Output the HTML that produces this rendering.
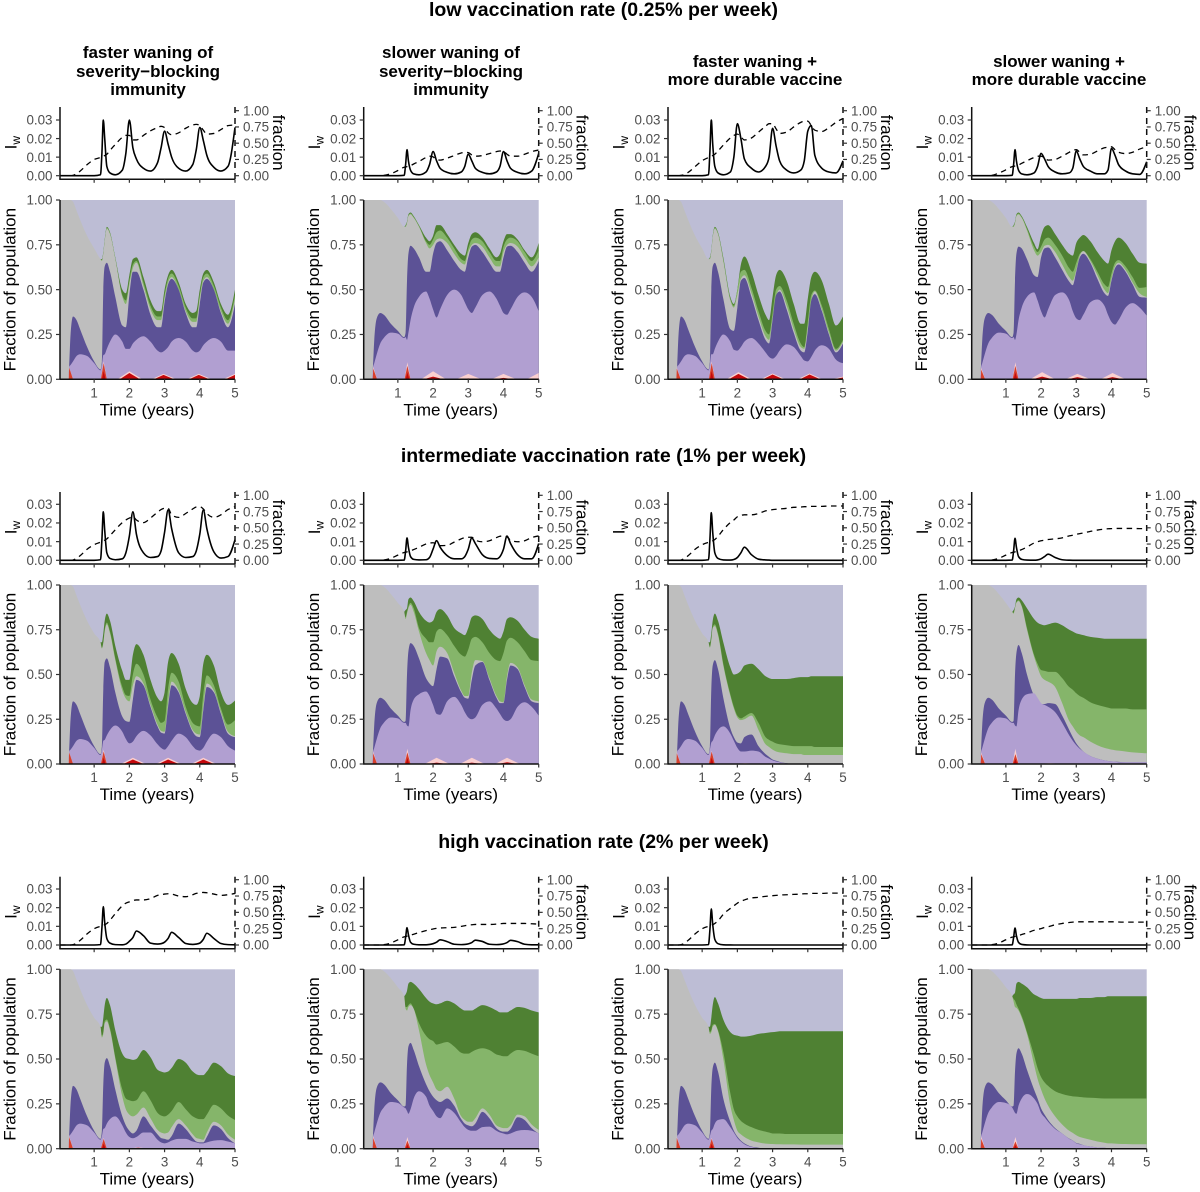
<!DOCTYPE html>
<html lang="en">
<head>
<meta charset="utf-8">
<title>Vaccination rate scenarios</title>
<style>
html,body{margin:0;padding:0;background:#fff;}
svg{display:block;font-family:"Liberation Sans",Arial,sans-serif;}
.row-title{font-size:19.5px;font-weight:bold;text-anchor:middle;fill:#000;}
.col-title{font-size:17px;font-weight:bold;text-anchor:middle;fill:#000;}
</style>
</head>
<body>
<svg id="figure" xmlns="http://www.w3.org/2000/svg" width="1200" height="1192" viewBox="0 0 1200 1192">
<rect width="1200" height="1192" fill="#fff"/>
<text class="row-title" x="603.5" y="16">low vaccination rate (0.25% per week)</text>
<text class="row-title" x="603.5" y="462">intermediate vaccination rate (1% per week)</text>
<text class="row-title" x="603.5" y="848">high vaccination rate (2% per week)</text>
<text class="col-title" x="148" y="58">faster waning of</text>
<text class="col-title" x="148" y="77">severity−blocking</text>
<text class="col-title" x="148" y="95">immunity</text>
<text class="col-title" x="451" y="58">slower waning of</text>
<text class="col-title" x="451" y="77">severity−blocking</text>
<text class="col-title" x="451" y="95">immunity</text>
<text class="col-title" x="755" y="67">faster waning +</text>
<text class="col-title" x="755" y="85">more durable vaccine</text>
<text class="col-title" x="1059" y="67">slower waning +</text>
<text class="col-title" x="1059" y="85">more durable vaccine</text>
</svg>
<script>
// Shared time grid (years)
const TIMES = [0.03,0.27,0.29,0.33,0.40,0.5,0.6,0.8,1.0,1.18,1.22,1.26,1.30,1.36,1.45,1.6,1.8,1.9,2.0,2.1,2.2,2.4,2.6,2.8,2.9,3.0,3.1,3.2,3.4,3.6,3.8,3.9,4.0,4.1,4.2,4.4,4.6,4.8,5.0];
const GREEN_TIMES = TIMES.slice(9);
const X_TICKS = [1,2,3,4,5];
const IW_TICKS = [0,0.01,0.02,0.03];
const IW_LABELS = ['0.00','0.01','0.02','0.03'];
const FRACTION_TICKS = [0,0.25,0.5,0.75,1];
const FRACTION_LABELS = ['0.00','0.25','0.50','0.75','1.00'];

// Stack boundaries in percent of population, one row per panel (row by row, column by column)
const lilacSeries = [
[0,0,7,8,10,13,14,13,9,5,8,13.5,14,17,21,25,21,17,17,20,22,24,21,16,15,16,18,21,23,21,16,15,16,19,21,23,21,16,16],
[0,0,6,9,14,20,23,26,25.5,23,23.5,22,26,33,40,46,49,45,39,34.5,39,47,50,47,43,39,37,40,47,49,45,41,37,36,39,46,48.5,46,38],
[0,0,7,8,10,13,14,13,9,5,8,14,14,17,21,25,21,16.5,16,18,21,23,20,15,12.5,11.5,13,16,19.5,18,13,10.5,10,12.5,16,19,17,11,9],
[0,0,6,9,14,20,23,26,25.5,23,23.5,22,25,33,40,46,48.5,44,38,34.5,39,47,48.5,44,38,34,33,36,43,44.5,41,36,32,30.5,33,40,42.5,40,35.5],
[0,0,7,8,10,13,14,13,9,5,8,13,13.5,16,19,21.5,18,14,11.5,12.5,15.5,18.5,16,11,9,8,10,13,17,15,10,8,7.5,9,12.5,17,15,10,7.5],
[0,0,6,9,14,20,23,26,25.5,23,23,21.5,21,30,36,39,40.5,38,33,28,27.5,35,37.5,33,29,26,25,26,33,35,31,28,25,24,25,32,34.5,32,27],
[0,0,7,8,10,13,14,13,9,5,8,12,13,16,19,21,17,13,9,7,7,7.5,7,4,3,2,1.4,1,0.3,0,0,0,0,0,0,0,0,0,0],
[0,0,6,9,14,20,23,26,25.5,23,23,21.5,21,30,36,39,39.5,37,34,33,32,29,23,16,13,10.5,8.5,7,4.5,3,2,1.7,1.5,1.3,1,1,1,1,1],
[0,0,7,8,10,13,14,13,9,5,7,11,11.5,14,16.5,18,13,9,6.5,5.8,6.5,9,9,5,3.5,3,3.5,4.5,5.5,5.5,4,3.5,3,3,3.5,4.5,4.8,4,3],
[0,0,6,9,14,20,23,26,25.5,23,22.5,21,19.5,22,28,32,29,24,21,18,17,22.5,20,14.5,12,10.5,10,10,12,12.3,10,9,8.5,8,8.5,10,10.4,10,8.5],
[0,0,7,8,10,13,14,13,9,5,7,10,11,14,16,16.5,12,9,6,4,2.5,1,0.2,0,0,0,0,0,0,0,0,0,0,0,0,0,0,0,0],
[0,0,6,9,14,20,23,26,25.5,23,21.5,20,19.5,24,28,30.5,28,25,20,17.5,15,11,8.5,5.5,4.5,3,2.5,2,1.2,0.7,0.5,0.2,0,0,0,0,0,0,0]
];
const purpleSeries = [
[0,0,7,25,35,33,28,18,10,5.5,10,50,63,65,60,46,30,29,47,60,60,50,36,29,29,43,53,56,50,37,29,29,42,54,56,50,37,29,42],
[0,0,6,22,34,37,36,31,27,23.5,26,55,70,74.5,73,68,60,60,70,76,77,72,66,61,60,68,74,75,71,65,60,60,68,74,74.5,71,65,60,66],
[0,0,7,25,35,33,28,18,10,5.5,10,50,63,65,60,45,28,27,40,55,56.5,46,33,22,20,33,47,49,39,26,16,15,27,44,47.5,38,25,15,20],
[0,0,6,22,34,37,36,31,27,23.5,26,55,70,74,73,67,58,57,68,73,73.5,68,61,54.5,52.5,60,68,70,65,56,48,46.5,55,62,64,60,53,46,45.5],
[0,0,7,25,35,33,28,18,10,5.5,10,42,57,59,54,40,26.5,24,23.5,36,47,44,32,21,17.5,17,32,44,40,28,18,15.5,15,30,43,40,28,17,15],
[0,0,6,22,34,37,36,31,27,23.5,24,50,63,67.5,66,59,48,45,43.5,53,60,59,49,40,37,36.5,47,55,57,47,37,34,34,47,55,53,43,35,34],
[0,0,7,25,35,33,28,18,10,5.5,10,42,55,58,53,37,20,15,12,11.5,15,16.5,10,5.5,4,2.5,1.8,1.2,0.4,0,0,0,0,0,0,0,0,0,0],
[0,0,6,22,34,37,36,31,27,23.5,24,50,62,66.5,62,50,38,34,33.5,33.5,34,33.5,27,19,15,11.5,9,7,4.5,3,2,1.7,1.5,1.3,1.2,1,1,1,1],
[0,0,7,25,35,33,28,18,10,5.5,10,36,48,50.5,46,33,18,13,10,8.5,10,18,13,8,6,5.5,5,7,14,11,6,4,3.5,3.5,6.5,13,11,6,3],
[0,0,6,22,34,37,36,31,27,23.5,24,47,57,59,55,46,36,32,29,27,26,28,24,16.5,14,13,12.5,14,20.5,17,11.5,10,9.5,9.5,11,17.5,16,11.5,8.5],
[0,0,7,25,35,33,28,18,10,5.5,9,34,45,48,43,28,15,10,6.7,4.5,3,1.2,0.5,0,0,0,0,0,0,0,0,0,0,0,0,0,0,0,0],
[0,0,6,22,34,37,36,31,27,23.5,24,43,53,56,53,44,33,28,22.5,19,16,11.5,8.5,5.6,4.6,3.2,2.7,2,1.2,0.7,0.5,0.2,0,0,0,0,0,0,0]
];
const greySeries = [
[100,100,100,100,99,94,89,80,73,67,66,70,77,84,81,67,46,42,53,62,65,52,39,33,33,45,54,57,50,38,32,32,45,55,57,50,38,31,45],
[100,100,100,100,100,100,99,95,90,85,85,87,91,92,90,85,76,73,75,78,78.5,76,70,65,64,71,75,76,74,68,63,63,71,75,76,74,68,63,68],
[100,100,100,100,99,94,89,80,73,67,67,71,79,84,81,66,44,40,47,56,58,48,35,24,22,34,46,50,41,28,18,17,29,44,49,39,26,16,21],
[100,100,100,100,100,100,99,95,90,85,85,87,91,92,90,83,72,69,71,74.5,75,71,64,57,55,61,69,71.5,66,58,50,48,56,63,65,61,54,48,46],
[100,100,100,100,99,94,89,80,73,68,64.5,67.5,74,78,73,58,41,36.5,35,44,49,45,33,22,18.5,18,34,46,41,29,19,17,16.5,32,45,41,29,18,15.5],
[100,100,100,100,100,100,99,95,90,85,81,84,87,89,85,74,62,58,55,63,65.5,62,51,41,38,38,51,58,57.5,48,38,35,34.5,49,56.5,54,44,36,35],
[100,100,100,100,99,94,89,80,73,68,65,69,76,77,72,55,38,31,26,24.5,25,27,19,11,9.5,8,7,6.5,6,5.5,5.5,5,5,5,5,5,5,5,5],
[100,100,100,100,100,100,99,95,90,85,84,87,90,91,88,75,60,54,49,47,46,43,34,24,21,18,16,15,12.5,10.5,9,8.5,8,7.7,7.5,7,6.5,6.2,6],
[100,100,100,100,99,94,89,80,73,68,62,64,70,71,66,50,29,22,19,18,19,23,17,10.5,9,8.5,9,12,16.5,13,8,6,5.5,5,9,15,13,8,5],
[100,100,100,100,100,100,99,95,90,85,78,77,79,80,78,66,47,41,37,33,32,34.5,28,18,16,15,15,17,22.5,19,13,12,11.5,11.5,13,19,18,13.5,10.5],
[100,100,100,100,99,94,89,80,73,68,64,65,68,69,65.5,50,24,16,10,8,6.5,4.5,3.5,2.8,2.7,2.6,2.5,2.5,2.4,2.4,2.3,2.3,2.3,2.3,2.3,2.3,2.3,2.3,2.3],
[100,100,100,100,100,100,99,95,90,85,82,79,78.5,77,73,64,47,39,33,28,24,18,13.5,10,8.8,7.5,6.5,6,5,4,3.3,3,3,2.8,2.7,2.6,2.5,2.5,2.5]
];
// Green boundaries start at t = 1.18 (GREEN_TIMES)
const lightGreenSeries = [
[67,66.5,70.5,77.5,84.5,81.5,67.5,47,44,55,64,66,54,41,35,35,47,56,59,52,40,34,34,47,57,59,52,40,33,47],
[85,85.5,87.5,91.5,92.5,90.5,85.5,77,75,78,82,83,79,73,67,66,73,78,79,77,71,66,66,74,78,79,77,71,66,72],
[67,67.5,71.5,79.5,84.5,81.5,67,45,41,50,60,61,51,38,27,25,37,50,52,44,31,20,18,32,47,49.5,41,28,17,22],
[85,85.5,87.5,91.5,92.5,90.5,84,74,71,74,78,79,75,69,62,60,65,70,71.5,67,60,53,51.5,59,65,66.5,63,57,51,51.5],
[68,65,68,75,79,74,59,43,38.5,38,50,56,50,36,26,23,24,42,51,46,32,23,21.5,21,39,49.5,44,31,22,24.5],
[85,82,85,88,90,87,76,70,68,68,74,75.5,72,66,61,60,64,70,71,68,62,58,57.5,62,69,70.5,68,63,58,57.5],
[68,65.5,70,76.5,78,73,56,39,32,27,25.5,26.5,28.5,23,15,13.5,12.5,11.5,11,10.5,10,10,10,10,10,9.5,9.5,9.5,9.5,9.5],
[85,84.5,87.5,90.5,91.5,88.5,76,61,56,52.5,52,51.5,51.5,48,43,41.5,39.5,38,37,34.5,33,32,31.5,31,31,31,31,30.5,30.5,30.5],
[68,63,65,71,72,67,51,33,28,27,26.5,27,32,27,20,18.5,18,19,21,26,22,18,17,16.5,16.5,19,24.5,22.5,18.5,16],
[85,79,79,80,81,78,70,63,61,60,58,58.5,59.5,57,53.5,53,53,54,55,56,55,52.5,52,51.5,51.5,53,55,54.5,53,51.5],
[68,65,66,69,69.5,66,54,31,22,18,15.5,14,12,10.5,9.5,9,8.5,8.5,8.5,8.2,8.2,8.2,8.2,8.2,8.2,8.2,8.2,8.2,8.2,8.2],
[85,83.5,82.5,80.5,78,74,65,52,45,40,37,35,32,30.5,29.5,29.2,29,28.8,28.6,28.4,28.2,28,28,28,28,28,28,28,28,28]
];
const darkGreenSeries = [
[67,67,71,78,85,82,68,50,48,58,67,68,57,44,38,38,50,58,61,54,42,37,38,50,59,61,54,42,36,50],
[85,86,88,92,93,91,86,79,77,80,86,86,81,75,70,69,76,81,82,79,73,68,70,77,81,81,78,72,68,76],
[67,68,72,80,85,82,68,46,42,50,64,68.5,60,47,36,33,46,58,61,55,42,31,31,45,57,60,55,42,30,35],
[85,86,88,92,93,91,85,76,72.5,80,85,86,81,75,70,69,76,79,80.5,77,71,66,64.5,72,77,79,76,70,65,64.5],
[68,68,73,80,84,80,66,52,47,47,61,67,61,47,37,35,40,57,62,56,42,34,33,38,56,61,55,40,33,35.5],
[85,86,87,92,93,91,85,80,79,80,85,86.5,83,76,73,72,76,82,83,81,75,71,70,74,81,82,80,75,71,70],
[68,68,73,80,84,80,68,54,50,50.5,52,55,56,53,49,48,47.5,47.5,47.5,47.5,48,48.5,48.5,48.5,49,49,49,49,49,49],
[85,86,88,92,93,91.5,87,81,79,78,77.5,78,79,77.5,75,74,73,72.5,72,71,70.5,70,70,70,70,70,70,70,70,70],
[68,68,73,80,84,80,66,53,50.5,50,49.5,50,55,51,44,43,42.5,43,45,50,48,43,41.5,41,41,43,48,46,42,40.5],
[85,86,88,92,93,92,89,84,82,81,80.5,81,82.5,81,78,77,77,77,78,80,79,77,76,76,76,77,79,78.5,77,76],
[68,68,73,80,84.5,81,72,65,63.5,63,62.5,62.5,63,64,64.5,64.8,65,65.2,65.5,65.5,65.5,65.5,65.5,65.5,65.5,65.5,65.5,65.5,65.5,65.5],
[85,86,87,92,93,92,90,86,85,84,83.5,83.5,83.5,83.5,83.5,83.5,83.5,84,84,84,84.5,84.5,85,85,85,85,85,85,85,85]
];

// Red / pink outbreak peaks: time (years) and heights (percent)
const peakTimes = [
[0.29,1.27,2.0,2.97,3.97,5.0],[0.30,1.27,2.0,3.0,4.0,5.0],[0.28,1.27,2.03,3.0,4.05,5.0],[0.30,1.27,2.03,3.03,4.03],
[0.29,1.27,2.1,3.1,4.1],[0.30,1.27,2.1,3.1,4.1],[0.28,1.27,2.22],[0.30,1.27,2.25],
[0.29,1.27,2.25,3.25],[0.30,1.27,2.25,3.3],[0.28,1.27],[0.30,1.27]
];
const redHeights = [
[6.5,9,3.5,2.5,2.5,2.5],[6,7.5,1.5,0.5,0.8,0.5],[6,9,3,2.7,2.7,1],[5.5,7.5,1.5,1.2,1.2],
[6.5,7,2.5,2.5,2.5],[6,6.5,0.8,0.8,1],[6,7,0.3],[5.5,5.5,0],
[6.5,5.5,0.5,0.2],[6,4.5,0,0],[6,5.5],[5.5,4]
];
const pinkHeights = [
[6.5,10,4.5,3,3,3],[7,9.5,4.5,3,3,3.5],[6.5,10,4,3.2,3.2,1.5],[6.5,9.5,4,3,3.5],
[6.5,8,3.5,3.5,3.5],[7,8.5,3.5,3.5,3.5],[6.5,7.5,0.5],[6.5,8.5,0.5],
[7,6,0.7,0.3],[7,6.5,0.4,0.2],[6.5,6],[7,6.5]
];

// Weekly incidence I_w, in thousandths
const iwSeries = [
[0,0,0,0,0,0,0,0,0,0.5,12,30,20,5,1.5,0.5,3,12,30,15,9,4,2.5,7,15,24,17,10,4,2.5,6,14,26,19,11,4.5,2.5,5,26],
[0,0,0,0,0,0,0,0,0,0.2,6,14,8,3,1,0.5,2,6,13,8,4,1.8,1,2,5,11.5,8,4,1.8,1,2,5,13,8,4,1.8,1,2.5,12],
[0,0,0,0,0,0,0,0,0,0.5,13,30,17,5,1.5,0.5,2,10,28,20,9,4,2,5,10,25.5,16,8,3,1.5,3,8,24,27,11,4,2,1.5,8],
[0,0,0,0,0,0,0,0,0,0.2,6,14,8,3,1,0.5,1.5,5,12,9,5,2,1,1.5,4,13.3,9,5,2.5,1,1,3,14.7,11,6,2.5,1,0.7,7.5],
[0,0,0,0,0,0,0,0,0,0.3,11,26,16,4,1,0.3,0.8,4,13,26,14,4,1.5,2,5,15,27,17,4,1.5,2,5,14,27,17,4.5,1.2,2,11],
[0,0,0,0,0,0,0,0,0,0.1,5,12,7,2,0.5,0.2,0.3,1.5,6,10.5,7,2.5,0.8,0.8,2,6,12,9,3,1,0.8,2,6,13,9,3,0.8,0.8,9],
[0,0,0,0,0,0,0,0,0,0.3,11,25.5,15,4,1,0.2,0.1,0.4,1.5,4,7,3,0.6,0.2,0.1,0,0,0,0,0,0,0,0,0,0,0,0,0,0],
[0,0,0,0,0,0,0,0,0,0.1,5,11.8,7,2,0.5,0.1,0.05,0.2,0.8,2,3.3,1.5,0.3,0.05,0,0,0,0,0,0,0,0,0,0,0,0,0,0,0],
[0,0,0,0,0,0,0,0,0,0.2,9,20.5,12,3.5,1,0.2,0.1,0.5,2,4,7.5,5,1,0.5,0.7,1.5,3.5,6.8,4,0.8,0.3,0.5,1,3,6.3,3.5,0.8,0.2,0.1],
[0,0,0,0,0,0,0,0,0,0.1,4,9.3,5.5,1.5,0.4,0.1,0.1,0.3,0.7,1.5,2.8,1.8,0.4,0.2,0.3,0.6,1.3,2.6,1.9,0.4,0.2,0.3,0.6,1.3,2.5,1.8,0.4,0.1,0.1],
[0,0,0,0,0,0,0,0,0,0.2,8,19.3,11,3,0.7,0.1,0.02,0,0,0,0,0,0,0,0,0,0,0,0,0,0,0,0,0,0,0,0,0,0],
[0,0,0,0,0,0,0,0,0,0.1,4,9.1,5,1.4,0.3,0.05,0,0,0,0,0,0,0,0,0,0,0,0,0,0,0,0,0,0,0,0,0,0,0]
];
// Vaccinated fraction (dashed line)
const fractionSeries = [
[0,0,0,0,0.005,0.03,0.07,0.17,0.25,0.28,0.29,0.30,0.31,0.33,0.39,0.48,0.59,0.62,0.62,0.55,0.55,0.62,0.69,0.74,0.76,0.74,0.66,0.63,0.66,0.73,0.78,0.79,0.77,0.70,0.64,0.65,0.71,0.77,0.78],
[0,0,0,0,0,0,0.005,0.03,0.08,0.13,0.135,0.14,0.145,0.155,0.18,0.22,0.28,0.30,0.29,0.245,0.24,0.27,0.31,0.35,0.36,0.355,0.32,0.30,0.31,0.34,0.37,0.38,0.375,0.33,0.30,0.30,0.33,0.37,0.395],
[0,0,0,0,0.005,0.02,0.05,0.14,0.23,0.28,0.29,0.30,0.31,0.33,0.38,0.47,0.58,0.62,0.64,0.60,0.55,0.58,0.67,0.76,0.80,0.80,0.72,0.65,0.67,0.75,0.82,0.84,0.84,0.77,0.70,0.68,0.74,0.82,0.88],
[0,0,0,0,0,0,0.005,0.04,0.09,0.14,0.145,0.15,0.155,0.165,0.19,0.23,0.28,0.30,0.30,0.27,0.24,0.25,0.30,0.36,0.39,0.40,0.36,0.32,0.33,0.38,0.43,0.44,0.445,0.40,0.36,0.34,0.36,0.41,0.445],
[0,0,0,0,0.005,0.03,0.07,0.17,0.24,0.28,0.29,0.30,0.31,0.33,0.38,0.47,0.58,0.62,0.65,0.67,0.62,0.58,0.65,0.74,0.78,0.80,0.80,0.70,0.66,0.72,0.79,0.82,0.825,0.79,0.72,0.66,0.70,0.78,0.825],
[0,0,0,0,0,0,0.005,0.03,0.08,0.12,0.125,0.13,0.135,0.145,0.165,0.20,0.25,0.265,0.27,0.25,0.225,0.23,0.28,0.33,0.35,0.355,0.355,0.31,0.285,0.30,0.35,0.37,0.375,0.36,0.31,0.285,0.30,0.35,0.375],
[0,0,0,0,0.005,0.03,0.07,0.17,0.24,0.275,0.28,0.29,0.30,0.32,0.37,0.47,0.58,0.62,0.67,0.69,0.70,0.70,0.72,0.76,0.77,0.78,0.785,0.79,0.80,0.815,0.82,0.825,0.825,0.83,0.83,0.83,0.835,0.835,0.835],
[0,0,0,0,0,0,0.005,0.03,0.08,0.12,0.125,0.13,0.135,0.145,0.165,0.205,0.265,0.285,0.30,0.31,0.32,0.33,0.345,0.375,0.385,0.40,0.41,0.42,0.445,0.465,0.48,0.485,0.487,0.49,0.49,0.49,0.49,0.487,0.487],
[0,0,0,0,0.005,0.03,0.07,0.17,0.25,0.285,0.29,0.30,0.31,0.33,0.38,0.48,0.60,0.64,0.66,0.68,0.69,0.69,0.71,0.76,0.77,0.78,0.785,0.78,0.75,0.74,0.77,0.79,0.80,0.805,0.80,0.78,0.76,0.77,0.79],
[0,0,0,0,0,0,0.005,0.03,0.08,0.125,0.13,0.135,0.14,0.15,0.165,0.19,0.22,0.235,0.245,0.255,0.26,0.265,0.27,0.285,0.295,0.305,0.31,0.315,0.315,0.315,0.32,0.325,0.33,0.33,0.33,0.33,0.33,0.325,0.32],
[0,0,0,0,0.005,0.03,0.07,0.17,0.25,0.285,0.29,0.30,0.31,0.33,0.37,0.47,0.56,0.60,0.64,0.67,0.69,0.72,0.73,0.745,0.75,0.755,0.76,0.765,0.77,0.775,0.78,0.785,0.785,0.79,0.79,0.79,0.795,0.795,0.795],
[0,0,0,0,0,0,0.005,0.03,0.08,0.12,0.125,0.13,0.135,0.145,0.16,0.185,0.225,0.24,0.25,0.27,0.28,0.31,0.33,0.345,0.35,0.355,0.355,0.355,0.355,0.355,0.355,0.355,0.355,0.355,0.352,0.35,0.35,0.35,0.35]
];

// Layout
const COL_X0 = [60,363.7,668,971.7];
const PLOT_W = 175;
const ROW_LAYOUT = [
  {upTop:107, iw0:175.7, iw3:120, frac1:110.7, upBottom:179.3, mainTop:200, mainBottom:379.3},
  {upTop:492, iw0:560.3, iw3:504.3, frac1:495.3, upBottom:564, mainTop:585, mainBottom:764},
  {upTop:876.7, iw0:945, iw3:889, frac1:879.7, upBottom:948.7, mainTop:969.3, mainBottom:1148.7}
];
const COLORS = {lavender:'#bdbdd5',grey:'#bebebe',purple:'#5c5296',lilac:'#b19fd1',lightGreen:'#85b56a',darkGreen:'#4f8133',red:'#d63f2c',deepRed:'#c5080c',pink:'#fbd0d0',tick:'#4d4d4d',axis:'#111'};

const NS = 'http://www.w3.org/2000/svg';
const svg = document.getElementById('figure');

function make(tag, attrs, parent){
  const node = document.createElementNS(NS, tag);
  for (const k in attrs) node.setAttribute(k, attrs[k]);
  (parent || svg).appendChild(node);
  return node;
}
function monotoneSegments(xs, ys){
  const n = xs.length, m = new Array(n).fill(0), s = [];
  for (let i = 0; i < n-1; i++) s.push((ys[i+1]-ys[i])/(xs[i+1]-xs[i]));
  for (let i = 1; i < n-1; i++){
    const h0 = xs[i]-xs[i-1], h1 = xs[i+1]-xs[i];
    const p = (s[i-1]*h1+s[i]*h0)/(h0+h1);
    m[i] = (Math.sign(s[i-1])+Math.sign(s[i]))*Math.min(Math.abs(s[i-1]),Math.abs(s[i]),0.5*Math.abs(p));
  }
  m[0] = (3*s[0]-m[1])/2;
  m[n-1] = (3*s[n-2]-m[n-2])/2;
  let d = '';
  for (let i = 0; i < n-1; i++){
    const h = (xs[i+1]-xs[i])/3;
    d += 'C'+(xs[i]+h).toFixed(2)+' '+(ys[i]+m[i]*h).toFixed(2)+' '+(xs[i+1]-h).toFixed(2)+' '+(ys[i+1]-m[i+1]*h).toFixed(2)+' '+xs[i+1].toFixed(2)+' '+ys[i+1].toFixed(2);
  }
  return d;
}
function linePath(xs, ys){
  return 'M'+xs[0].toFixed(2)+' '+ys[0].toFixed(2)+monotoneSegments(xs, ys);
}
function areaPath(xs, ys, base){
  return 'M'+xs[0].toFixed(2)+' '+base+'L'+xs[0].toFixed(2)+' '+ys[0].toFixed(2)+monotoneSegments(xs, ys)+'L'+xs[xs.length-1].toFixed(2)+' '+base+'Z';
}
function textAt(content, x, y, size, fill, anchor){
  const t = make('text', {x:x, y:y, 'font-size':size, fill:fill, 'text-anchor':anchor});
  t.textContent = content;
  return t;
}

for (let r = 0; r < 3; r++){
  for (let c = 0; c < 4; c++){
    const idx = r*4 + c;
    const L = ROW_LAYOUT[r];
    const x0 = COL_X0[c], x5 = x0 + PLOT_W;
    const xScale = function(t){ return x0 + (t-0.03)*PLOT_W/4.97; };
    const yMain = function(p){ return L.mainBottom - p/100*(L.mainBottom-L.mainTop); };
    const yIw = function(v){ return L.iw0 - v/0.03*(L.iw0-L.iw3); };
    const yFrac = function(v){ return L.iw0 - v*(L.iw0-L.frac1); };

    const panel = make('g', {});
    
    

    // Upper chart
    const iwLine = make('path', {d:linePath(TIMES.map(xScale), iwSeries[idx].map(function(v){return yIw(v/1000);})), fill:'none', stroke:'#000', 'stroke-width':1.6}, panel);
    
    
    const fracLine = make('path', {d:linePath(TIMES.map(xScale), fractionSeries[idx].map(yFrac)), fill:'none', stroke:'#000', 'stroke-width':1.3, 'stroke-dasharray':'5.5 4.5'}, panel);
    
    

    const upLeft = make('line', {x1:x0, x2:x0, y1:L.upTop, y2:L.upBottom, stroke:COLORS.axis, 'stroke-width':1.5}, panel);
    
    
    const upBottom = make('line', {x1:x0-0.7, x2:x5, y1:L.upBottom, y2:L.upBottom, stroke:COLORS.axis, 'stroke-width':1.5}, panel);
    
    
    const upRight = make('line', {x1:x5, x2:x5, y1:L.upTop, y2:L.upBottom, stroke:COLORS.axis, 'stroke-width':1.5, 'stroke-dasharray':'6 5'}, panel);
    
    

    IW_TICKS.forEach(function(v, i){
      const y = yIw(v);
      const tick = make('line', {x1:x0-4, x2:x0, y1:y, y2:y, stroke:'#333', 'stroke-width':1.2}, panel);
      
      
      const lab = textAt(IW_LABELS[i], x0-7.5, y+4.7, 13.4, COLORS.tick, 'end');
      
      
    });
    FRACTION_TICKS.forEach(function(v, i){
      const y = yFrac(v);
      const tick = make('line', {x1:x5, x2:x5+4, y1:y, y2:y, stroke:'#333', 'stroke-width':1.2}, panel);
      
      
      const lab = textAt(FRACTION_LABELS[i], x5+8, y+4.7, 13.4, COLORS.tick, 'start');
      
      
    });
    X_TICKS.forEach(function(t){
      const tick = make('line', {x1:xScale(t), x2:xScale(t), y1:L.upBottom, y2:L.upBottom+3.5, stroke:'#333', 'stroke-width':1.2}, panel);
      
      
    });

    const iwMid = (L.upTop + L.upBottom)/2 - 0.5;
    const iwTitle = make('text', {transform:'translate('+(x0-43.5)+' '+iwMid+') rotate(-90)', 'font-size':17, 'text-anchor':'middle', fill:'#000'}, panel);
    
    
    iwTitle.textContent = 'I';
    const iwSub = make('tspan', {'font-size':12, dy:3.5}, iwTitle);
    iwSub.textContent = 'w';

    const fracTitle = make('text', {transform:'translate('+(x5+38)+' '+iwMid+') rotate(90)', 'font-size':17, 'text-anchor':'middle', fill:'#000'}, panel);
    
    
    fracTitle.textContent = 'fraction';

    // Main stacked area chart
    const bg = make('rect', {x:x0, y:L.mainTop, width:PLOT_W, height:L.mainBottom-L.mainTop, fill:COLORS.lavender}, panel);
    
    

    const xsAll = TIMES.map(xScale);
    const xsGreen = GREEN_TIMES.map(xScale);
    const base = L.mainBottom;

    const dgArea = make('path', {d:areaPath(xsGreen, darkGreenSeries[idx].map(yMain), base), fill:COLORS.darkGreen}, panel);
    
    
    const lgArea = make('path', {d:areaPath(xsGreen, lightGreenSeries[idx].map(yMain), base), fill:COLORS.lightGreen}, panel);
    
    
    const greyArea = make('path', {d:areaPath(xsAll, greySeries[idx].map(yMain), base), fill:COLORS.grey}, panel);
    
    
    const purpleArea = make('path', {d:areaPath(xsAll.slice(1), purpleSeries[idx].slice(1).map(yMain), base), fill:COLORS.purple}, panel);
    
    
    const lilacArea = make('path', {d:areaPath(xsAll.slice(1), lilacSeries[idx].slice(1).map(yMain), base), fill:COLORS.lilac}, panel);
    
    

    const clip = make('clipPath', {id:'clip-'+idx}, panel);
    make('rect', {x:x0, y:L.mainTop, width:PLOT_W, height:L.mainBottom-L.mainTop}, clip);
    const peaks = make('g', {'clip-path':'url(#clip-'+idx+')'}, panel);
    
    
    peakTimes[idx].forEach(function(t, i){
      const left = i === 0 ? 0.012 : (i === 1 ? 0.08 : 0.27);
      const right = i === 0 ? 0.11 : (i === 1 ? 0.09 : 0.3);
      const pinkPts = [xScale(t-left-(i>1?0.07:0))+','+base, xScale(t)+','+yMain(pinkHeights[idx][i]), xScale(t+right+(i>1?0.07:0))+','+base].join(' ');
      const pink = make('polygon', {points:pinkPts, fill:COLORS.pink}, peaks);
      
      
      const redPts = [xScale(t-left)+','+base, xScale(t)+','+yMain(redHeights[idx][i]), xScale(t+right)+','+base].join(' ');
      const red = make('polygon', {points:redPts, fill:i > 1 ? COLORS.deepRed : COLORS.red}, peaks);
      
      
      if (i === 1){
        const corePts = [xScale(t-left*0.6)+','+base, xScale(t)+','+yMain(redHeights[idx][i]*0.5), xScale(t+right*0.6)+','+base].join(' ');
        const core = make('polygon', {points:corePts, fill:COLORS.deepRed}, peaks);
        
        
      }
    });

    const mainLeft = make('line', {x1:x0, x2:x0, y1:L.mainTop, y2:L.mainBottom, stroke:COLORS.axis, 'stroke-width':1.5}, panel);
    
    
    const mainBottom = make('line', {x1:x0-0.7, x2:x5, y1:L.mainBottom, y2:L.mainBottom, stroke:COLORS.axis, 'stroke-width':1.5}, panel);
    
    

    FRACTION_TICKS.forEach(function(v, i){
      const y = yMain(v*100);
      const tick = make('line', {x1:x0-4, x2:x0, y1:y, y2:y, stroke:'#333', 'stroke-width':1.2}, panel);
      
      
      const lab = textAt(FRACTION_LABELS[i], x0-7.5, y+4.7, 13.4, COLORS.tick, 'end');
      
      
    });
    X_TICKS.forEach(function(t){
      const tick = make('line', {x1:xScale(t), x2:xScale(t), y1:L.mainBottom, y2:L.mainBottom+3.5, stroke:'#333', 'stroke-width':1.2}, panel);
      
      
      const lab = textAt(String(t), xScale(t), L.mainBottom+18, 13.4, COLORS.tick, 'middle');
      
      
    });

    const xTitle = textAt('Time (years)', x0+87, L.mainBottom+36, 17, '#000', 'middle');
    
    
    const yTitle = make('text', {transform:'translate('+(x0-44.5)+' '+((L.mainTop+L.mainBottom)/2)+') rotate(-90)', 'font-size':17, 'text-anchor':'middle', fill:'#000'}, panel);
    
    
    yTitle.textContent = 'Fraction of population';
  }
}
</script>
</body>
</html>
